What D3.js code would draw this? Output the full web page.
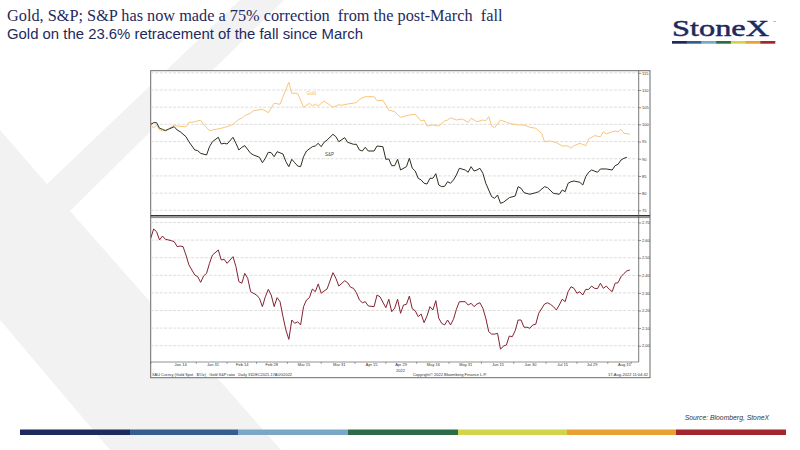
<!DOCTYPE html>
<html><head><meta charset="utf-8">
<script src="https://cdn.jsdelivr.net/npm/d3@7"></script>
<style>body{margin:0;background:#fff}svg{display:block}</style>
</head><body><svg id="c" width="800" height="450"></svg>
<script>
// ---------- DATA ----------
const gold = [["2021-12-31",100.0],["2022-01-03",98.9],["2022-01-04",99.8],["2022-01-05",98.4],["2022-01-06",98.1],["2022-01-10",98.65],["2022-01-12",99.8],["2022-01-13",99.5],["2022-01-18",99.3],["2022-01-19",100.6],["2022-01-20",100.6],["2022-01-25",101.2],["2022-01-26",100.0],["2022-01-28",98.16],["2022-01-31",98.36],["2022-02-03",98.86],["2022-02-07",99.32],["2022-02-09",100.0],["2022-02-11",101.48],["2022-02-14",101.77],["2022-02-15",102.52],["2022-02-17",103.31],["2022-02-18",103.98],["2022-02-23",104.39],["2022-02-25",103.40],["2022-03-01",106.13],["2022-03-03",105.84],["2022-03-04",108.05],["2022-03-08",112.24],["2022-03-09",109.04],["2022-03-11",109.04],["2022-03-15",104.97],["2022-03-17",106.13],["2022-03-18",105.35],["2022-03-21",105.93],["2022-03-22",105.35],["2022-03-24",106.8],["2022-03-29",104.97],["2022-03-31",105.72],["2022-04-01",105.55],["2022-04-05",105.93],["2022-04-08",106.31],["2022-04-11",107.3],["2022-04-13",108.05],["2022-04-18",108.05],["2022-04-19",106.89],["2022-04-21",107.0],["2022-04-25",104.18],["2022-04-27",103.69],["2022-04-29",102.06],["2022-05-03",102.52],["2022-05-04",102.73],["2022-05-06",102.93],["2022-05-10",100.98],["2022-05-11",101.27],["2022-05-12",99.53],["2022-05-16",99.82],["2022-05-18",99.53],["2022-05-20",100.98],["2022-05-23",101.27],["2022-05-24",101.94],["2022-05-26",101.27],["2022-05-30",101.56],["2022-06-01",100.6],["2022-06-02",101.77],["2022-06-06",100.78],["2022-06-08",101.27],["2022-06-09",101.07],["2022-06-10",102.23],["2022-06-13",99.53],["2022-06-14",99.03],["2022-06-16",101.27],["2022-06-20",100.6],["2022-06-22",100.11],["2022-06-24",99.82],["2022-06-28",99.82],["2022-06-30",99.15],["2022-07-04",98.86],["2022-07-06",97.4],["2022-07-07",94.96],["2022-07-11",95.16],["2022-07-13",94.67],["2022-07-14",94.20],["2022-07-15",93.71],["2022-07-19",93.71],["2022-07-20",93.04],["2022-07-21",93.8],["2022-07-25",94.49],["2022-07-27",93.8],["2022-07-28",95.74],["2022-08-01",96.71],["2022-08-03",96.41],["2022-08-04",97.87],["2022-08-05",97.2],["2022-08-09",97.87],["2022-08-10",98.07],["2022-08-11",97.87],["2022-08-12",98.57],["2022-08-15",97.4],["2022-08-16",97.3],["2022-08-17",97.11]];

const spx = [["2021-12-31",100.0],["2022-01-03",100.49],["2022-01-04",100.49],["2022-01-05",98.86],["2022-01-06",98.57],["2022-01-07",98.16],["2022-01-10",98.57],["2022-01-12",99.32],["2022-01-13",98.36],["2022-01-14",97.87],["2022-01-18",96.41],["2022-01-19",94.96],["2022-01-21",92.54],["2022-01-24",92.34],["2022-01-25",91.58],["2022-01-27",91.09],["2022-01-28",93.5],["2022-01-31",94.96],["2022-02-02",96.24],["2022-02-03",94.29],["2022-02-04",94.49],["2022-02-07",94.29],["2022-02-09",96.24],["2022-02-10",94.49],["2022-02-11",92.54],["2022-02-14",93.33],["2022-02-15",93.80],["2022-02-17",91.58],["2022-02-18",91.09],["2022-02-22",90.42],["2022-02-23",88.85],["2022-02-24",90.13],["2022-02-25",91.88],["2022-02-28",91.76],["2022-03-01",90.59],["2022-03-02",92.05],["2022-03-04",91.38],["2022-03-07",89.14],["2022-03-08",87.69],["2022-03-09",89.84],["2022-03-10",88.85],["2022-03-11",87.89],["2022-03-14",87.69],["2022-03-15",90.59],["2022-03-16",92.25],["2022-03-18",93.50],["2022-03-21",93.71],["2022-03-22",94.49],["2022-03-23",93.50],["2022-03-24",94.78],["2022-03-25",95.45],["2022-03-29",97.11],["2022-03-30",96.41],["2022-03-31",94.96],["2022-04-04",96.12],["2022-04-05",94.78],["2022-04-07",94.20],["2022-04-08",94.20],["2022-04-11",92.54],["2022-04-12",92.25],["2022-04-13",93.33],["2022-04-14",92.25],["2022-04-18",92.25],["2022-04-19",93.71],["2022-04-21",93.50],["2022-04-22",89.84],["2022-04-25",89.93],["2022-04-26",87.98],["2022-04-27",87.98],["2022-04-28",89.84],["2022-04-29",86.73],["2022-05-03",87.69],["2022-05-04",90.13],["2022-05-05",87.22],["2022-05-06",86.43],["2022-05-09",84.31],["2022-05-10",83.82],["2022-05-11",82.86],["2022-05-12",82.65],["2022-05-13",84.31],["2022-05-16",84.31],["2022-05-17",85.65],["2022-05-18",82.36],["2022-05-19",81.87],["2022-05-20",81.98],["2022-05-23",83.32],["2022-05-24",82.86],["2022-05-25",83.82],["2022-05-26",85.27],["2022-05-27",87.22],["2022-05-31",86.73],["2022-06-01",86.06],["2022-06-02",87.69],["2022-06-03",86.43],["2022-06-06",86.73],["2022-06-07",87.22],["2022-06-08",85.77],["2022-06-09",82.86],["2022-06-13",78.96],["2022-06-14",78.49],["2022-06-15",79.45],["2022-06-16",77.04],["2022-06-17",77.33],["2022-06-21",78.67],["2022-06-23",79.16],["2022-06-24",81.87],["2022-06-27",81.40],["2022-06-28",80.12],["2022-06-30",79.66],["2022-07-04",80.12],["2022-07-05",80.41],["2022-07-07",81.87],["2022-07-08",81.58],["2022-07-12",79.95],["2022-07-14",79.66],["2022-07-15",80.91],["2022-07-18",80.41],["2022-07-19",82.86],["2022-07-20",83.32],["2022-07-21",83.52],["2022-07-25",83.15],["2022-07-26",82.36],["2022-07-27",84.78],["2022-07-28",86.06],["2022-07-29",86.73],["2022-08-02",86.06],["2022-08-03",87.02],["2022-08-05",87.02],["2022-08-09",86.73],["2022-08-10",87.98],["2022-08-11",88.38],["2022-08-12",89.63],["2022-08-15",90.13],["2022-08-16",90.42]];

const ratio = [["2021-12-31",2.610],["2022-01-03",2.663],["2022-01-04",2.648],["2022-01-05",2.601],["2022-01-06",2.623],["2022-01-07",2.605],["2022-01-11",2.597],["2022-01-12",2.591],["2022-01-13",2.563],["2022-01-14",2.566],["2022-01-17",2.563],["2022-01-18",2.515],["2022-01-19",2.459],["2022-01-21",2.402],["2022-01-24",2.392],["2022-01-25",2.360],["2022-01-26",2.396],["2022-01-27",2.411],["2022-01-28",2.468],["2022-01-31",2.515],["2022-02-02",2.544],["2022-02-03",2.487],["2022-02-04",2.491],["2022-02-07",2.468],["2022-02-09",2.506],["2022-02-10",2.449],["2022-02-11",2.364],["2022-02-14",2.355],["2022-02-15",2.411],["2022-02-16",2.383],["2022-02-17",2.307],["2022-02-21",2.288],["2022-02-22",2.269],["2022-02-23",2.222],["2022-02-24",2.278],["2022-02-25",2.320],["2022-02-28",2.288],["2022-03-01",2.222],["2022-03-02",2.273],["2022-03-03",2.250],["2022-03-04",2.165],["2022-03-07",2.089],["2022-03-08",2.036],["2022-03-09",2.146],["2022-03-10",2.127],["2022-03-11",2.136],["2022-03-14",2.118],["2022-03-15",2.222],["2022-03-16",2.260],["2022-03-17",2.273],["2022-03-18",2.322],["2022-03-21",2.307],["2022-03-22",2.351],["2022-03-23",2.298],["2022-03-24",2.311],["2022-03-25",2.322],["2022-03-29",2.415],["2022-03-30",2.383],["2022-03-31",2.339],["2022-04-04",2.369],["2022-04-05",2.358],["2022-04-06",2.332],["2022-04-07",2.326],["2022-04-08",2.301],["2022-04-11",2.260],["2022-04-12",2.244],["2022-04-13",2.250],["2022-04-14",2.226],["2022-04-18",2.222],["2022-04-19",2.288],["2022-04-20",2.278],["2022-04-22",2.216],["2022-04-25",2.264],["2022-04-26",2.193],["2022-04-27",2.213],["2022-04-28",2.264],["2022-04-29",2.184],["2022-05-02",2.231],["2022-05-03",2.235],["2022-05-04",2.282],["2022-05-05",2.209],["2022-05-06",2.199],["2022-05-09",2.165],["2022-05-10",2.180],["2022-05-11",2.131],["2022-05-12",2.169],["2022-05-13",2.222],["2022-05-16",2.203],["2022-05-17",2.256],["2022-05-18",2.156],["2022-05-19",2.127],["2022-05-20",2.118],["2022-05-23",2.146],["2022-05-24",2.118],["2022-05-25",2.150],["2022-05-26",2.207],["2022-05-27",2.250],["2022-05-31",2.250],["2022-06-01",2.231],["2022-06-02",2.241],["2022-06-03",2.222],["2022-06-06",2.237],["2022-06-07",2.244],["2022-06-08",2.213],["2022-06-09",2.156],["2022-06-10",2.080],["2022-06-13",2.066],["2022-06-14",2.066],["2022-06-15",2.070],["2022-06-16",1.980],["2022-06-17",1.998],["2022-06-20",2.004],["2022-06-21",2.055],["2022-06-22",2.051],["2022-06-23",2.085],["2022-06-24",2.146],["2022-06-27",2.146],["2022-06-28",2.105],["2022-06-29",2.105],["2022-06-30",2.099],["2022-07-01",2.118],["2022-07-04",2.122],["2022-07-05",2.184],["2022-07-07",2.237],["2022-07-08",2.244],["2022-07-11",2.235],["2022-07-12",2.222],["2022-07-13",2.203],["2022-07-14",2.231],["2022-07-15",2.264],["2022-07-18",2.250],["2022-07-19",2.307],["2022-07-20",2.335],["2022-07-21",2.326],["2022-07-22",2.298],["2022-07-25",2.307],["2022-07-26",2.288],["2022-07-27",2.320],["2022-07-28",2.320],["2022-07-29",2.339],["2022-08-01",2.326],["2022-08-02",2.324],["2022-08-03",2.355],["2022-08-04",2.326],["2022-08-05",2.339],["2022-08-08",2.320],["2022-08-09",2.307],["2022-08-10",2.355],["2022-08-11",2.358],["2022-08-12",2.392],["2022-08-15",2.410],["2022-08-16",2.425],["2022-08-17",2.430]];

const topTicks = [75,80,85,90,95,100,105,110,115];
const bottomTicks = [2.00,2.10,2.20,2.30,2.40,2.50,2.60,2.70];
const xTickDates = ["2022-01-14","2022-01-31","2022-02-14","2022-02-28","2022-03-15","2022-03-31","2022-04-15","2022-04-29","2022-05-16","2022-05-31","2022-06-15","2022-06-30","2022-07-15","2022-07-29","2022-08-15"];
const xTickLabels = ["Jan 14","Jan 31","Feb 14","Feb 28","Mar 15","Mar 31","Apr 15","Apr 29","May 16","May 31","Jun 15","Jun 30","Jul 15","Jul 29","Aug 15"];
const startDate = "2021-12-31", endDate = "2022-08-22";
const titleLines = ["Gold, S&P; S&P has now made a 75% correction  from the post-March  fall","Gold on the 23.6% retracement of the fall since March"];

// ---------- STYLE / LAYOUT ----------
const navy = "#1f2a5c";
const stripe = ["#1f2a5c","#365d8d","#7aa7c8","#2e6b47","#d2d44b","#e8a133","#a3262e"];
const L = 150.7, R = 638.7, FR = 650, T = 70.7, FB = 377.7, SEP = 216.5, XA = 362;

const svg = d3.select("#c");
svg.append("rect").attr("width",800).attr("height",450).attr("fill","#fff");

// watermark chevron
svg.append("path").attr("fill","#f2f2f2")
  .attr("d","M240,0 L284,0 L70,211 L281,450 L110,450 L0,320 L0,130 L47,184 Z");

// titles
svg.append("text").attr("x",7).attr("y",20.5).attr("fill",navy)
  .style("font-family","'Liberation Serif','Times New Roman',serif").style("font-size","16.3px")
  .style("white-space","pre").text(titleLines[0]);
svg.append("text").attr("x",7).attr("y",38.5).attr("fill",navy)
  .style("font-family","'Liberation Sans',Arial,sans-serif").style("font-size","14.9px")
  .text(titleLines[1]);

// logo
svg.append("text").attr("x",672).attr("y",36).attr("fill",navy)
  .attr("stroke",navy).attr("stroke-width",0.5)
  .attr("textLength",97).attr("lengthAdjust","spacingAndGlyphs")
  .style("font-family","'Liberation Serif','Times New Roman',serif").style("font-size","24px")
  .text("StoneX");
svg.append("text").attr("x",773).attr("y",23).attr("fill",navy).style("font-family","'Liberation Sans',sans-serif").style("font-size","3px").text("™");
const lw = (775-672)/7;
svg.selectAll(".lb").data(stripe).join("rect").attr("x",(d,i)=>672+i*lw).attr("y",41).attr("width",lw+0.3).attr("height",2.7).attr("fill",d=>d);

// footer stripe
const fx = [20,130,238,348,458,567,676,786];
svg.selectAll(".fb").data(stripe).join("rect").attr("x",(d,i)=>fx[i]).attr("y",429.5).attr("width",(d,i)=>fx[i+1]-fx[i]).attr("height",5.5).attr("fill",d=>d);

svg.append("text").attr("x",769).attr("y",420).attr("text-anchor","end").attr("fill","#333")
  .style("font-family","'Liberation Sans',Arial,sans-serif").style("font-style","italic").style("font-size","6.8px")
  .text("Source: Bloomberg, StoneX");

// ---------- CHART ----------
const parse = d3.timeParse("%Y-%m-%d");
const d0 = parse(startDate);
const tIdx = s => d3.timeDay.range(d0, parse(s)).filter(d => d.getDay()!==0 && d.getDay()!==6).length;
const x = d3.scaleLinear().domain([0, tIdx(endDate)]).range([L, 150.6 + 2.94*tIdx(endDate)]);
const yT = d3.scaleLinear().domain([75,115]).range([210.3,72.8]);
const yB = d3.scaleLinear().domain([2.0,2.7]).range([345.7,222.5]);

svg.append("rect").attr("x",L).attr("y",T).attr("width",FR-L).attr("height",FB-T).attr("fill","#fff").attr("stroke","#6a6a6a").attr("stroke-width",1);

const defs = svg.append("defs");
defs.append("clipPath").attr("id","ct").append("rect").attr("x",L).attr("y",T).attr("width",R-L).attr("height",SEP-T-1);
defs.append("clipPath").attr("id","cb").append("rect").attr("x",L).attr("y",SEP+1).attr("width",R-L).attr("height",XA-SEP-1);

// grids
svg.append("g").selectAll("line").data(topTicks).join("line")
  .attr("x1",L).attr("x2",R).attr("y1",d=>yT(d)).attr("y2",d=>yT(d))
  .attr("stroke","#cfcfcf").attr("stroke-width",0.7).attr("stroke-dasharray","3,1.5");
svg.append("g").selectAll("line").data(bottomTicks).join("line")
  .attr("x1",L).attr("x2",R).attr("y1",d=>yB(d)).attr("y2",d=>yB(d))
  .attr("stroke","#cfcfcf").attr("stroke-width",0.7).attr("stroke-dasharray","3,1.5");

const lineT = d3.line().x(d=>x(tIdx(d[0]))).y(d=>yT(d[1]));
const lineB = d3.line().x(d=>x(tIdx(d[0]))).y(d=>yB(d[1]));
svg.append("path").datum(gold).attr("d",lineT).attr("clip-path","url(#ct)").attr("fill","none").attr("stroke","#f9c577").attr("stroke-width",1);
svg.append("path").datum(spx).attr("d",lineT).attr("clip-path","url(#ct)").attr("fill","none").attr("stroke","#2a2f1e").attr("stroke-width",1);
svg.append("path").datum(ratio).attr("d",lineB).attr("clip-path","url(#cb)").attr("fill","none").attr("stroke","#852232").attr("stroke-width",1);

const tiny = "'Liberation Sans',Arial,sans-serif";
svg.append("text").attr("x",306.5).attr("y",95).attr("fill","#f2b865").style("font-family",tiny).style("font-size","4.5px").text("Gold");
svg.append("text").attr("x",325).attr("y",156).attr("fill","#4a4d3a").style("font-family",tiny).style("font-size","4.5px").text("S&P");

// separator
svg.append("line").attr("x1",L).attr("x2",FR).attr("y1",215.7).attr("y2",215.7).attr("stroke","#333").attr("stroke-width",1.4);
svg.append("line").attr("x1",L).attr("x2",FR).attr("y1",217.6).attr("y2",217.6).attr("stroke","#666").attr("stroke-width",0.8);

// right axes
const axT = svg.append("g").attr("transform",`translate(${R},0)`).call(d3.axisRight(yT).tickValues(topTicks).tickSize(2.5).tickPadding(0.8).tickFormat(d3.format("d")));
const axB = svg.append("g").attr("transform",`translate(${R},0)`).call(d3.axisRight(yB).tickValues(bottomTicks).tickSize(2.5).tickPadding(0.8).tickFormat(d3.format(".2f")));
[axT,axB].forEach(a=>{a.select(".domain").remove();a.selectAll("line").attr("stroke","#444").attr("stroke-width",0.6);a.selectAll("text").attr("fill","#333").style("font-family",tiny).style("font-size","4px");});
svg.append("line").attr("x1",R).attr("x2",R).attr("y1",T).attr("y2",XA).attr("stroke","#555").attr("stroke-width",0.8);

// bottom x axis
svg.append("line").attr("x1",L).attr("x2",R).attr("y1",XA).attr("y2",XA).attr("stroke","#777").attr("stroke-width",0.8);
const tickIdx = xTickDates.map(tIdx);
const ax = svg.append("g").attr("transform",`translate(0,${XA})`).call(d3.axisBottom(x).tickValues(tickIdx).tickSize(0).tickPadding(1.6).tickFormat((d,i)=>xTickLabels[i]));
ax.select(".domain").remove();
ax.selectAll("text").attr("fill","#333").style("font-family",tiny).style("font-size","4px");
const minor = tickIdx.slice(0,-1).map((d,i)=>(d+tickIdx[i+1])/2);
svg.append("g").selectAll("line").data([0,...minor,(tickIdx[tickIdx.length-1]+tIdx(endDate))/2]).join("line")
  .attr("x1",d=>x(d)).attr("x2",d=>x(d)).attr("y1",XA).attr("y2",XA+1.8).attr("stroke","#555").attr("stroke-width",0.6);
svg.append("text").attr("x",x(tIdx("2022-04-29"))).attr("y",372.3).attr("text-anchor","middle").attr("fill","#333").style("font-family",tiny).style("font-size","4px").text("2022");

// footer texts inside frame
const ft = (xx,anchor,len,t)=>svg.append("text").attr("x",xx).attr("y",376.3).attr("text-anchor",anchor).attr("textLength",len).attr("lengthAdjust","spacingAndGlyphs").attr("fill","#333").style("font-family",tiny).style("font-size","3.8px").style("white-space","pre").text(t);
ft(152,"start",140,"XAU Curncy (Gold Spot   $/Oz)   Gold S&P ratio   Daily 31DEC2021-17AUG2022");
ft(412.7,"start",74,"Copyright\u00A9 2022 Bloomberg Finance L.P.");
ft(608,"start",40,"17-Aug-2022 11:04:42");
</script></body></html>
